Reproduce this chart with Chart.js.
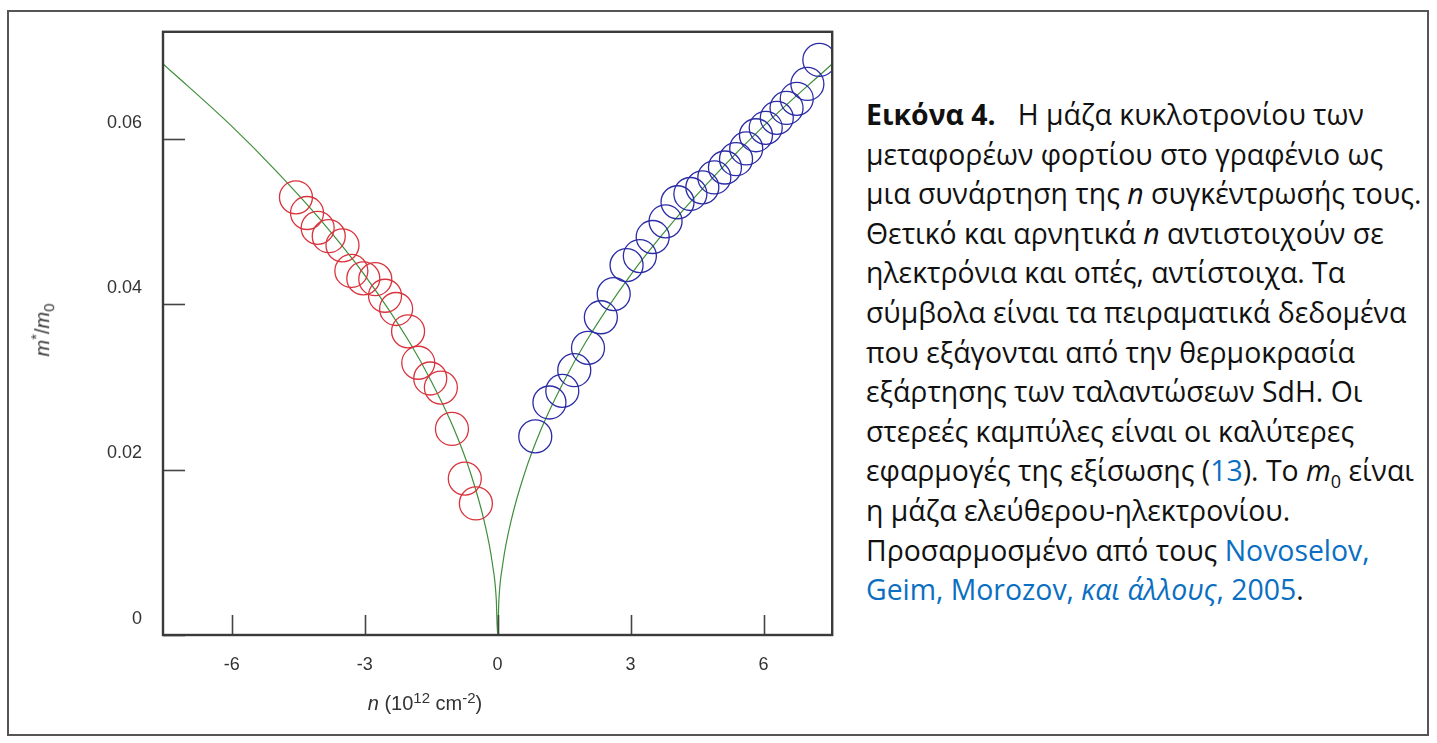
<!DOCTYPE html>
<html lang="el">
<head>
    <meta charset="UTF-8">
    <title>Μάζα κυκλοτρονίου στο γραφένιο</title>
    <script src="https://cdn.jsdelivr.net/npm/chart.js"></script>
    <style>
        html, body {
            margin: 0;
            padding: 0;
            background: #fff;
        }
        .frame {
            position: absolute;
            left: 7px;
            top: 10px;
            width: 1422px;
            height: 726px;
            border: 2px solid #555;
            box-sizing: border-box;
        }
        #massChart {
            position: absolute;
            left: 0;
            top: 0;
        }
        .axis-title {
            position: absolute;
            font-family: 'Liberation Sans', Arial, sans-serif;
            font-size: 20px;
            color: #333;
            white-space: nowrap;
        }
        .axis-title sup, .axis-title sub {
            font-size: 15px;
        }
        #xTitle {
            left: 425px;
            top: 702px;
            transform: translate(-50%, -50%);
        }
        #yTitle {
            left: 42px;
            top: 330px;
            transform: translate(-50%, -50%) rotate(-90deg);
        }
        .caption {
            position: absolute;
            left: 866px;
            top: 95px;
            font-family: 'Open Sans', 'Noto Sans', sans-serif;
            font-size: 28.4px;
            line-height: 39.6px;
            color: #111;
        }
        .caption .ln { white-space: nowrap; }
        .caption a { color: #0a6fc2; text-decoration: none; }
        .caption sub { font-size: 18px; line-height: 0; }
    </style>
</head>
<body>
    <div class="frame"></div>
    <canvas id="massChart" width="850" height="743"></canvas>

    <div class="axis-title" id="xTitle"><i>n</i> (10<sup>12</sup> cm<sup>-2</sup>)</div>
    <div class="axis-title" id="yTitle"><i>m</i><sup>*</sup>/<i>m</i><sub>0</sub></div>

    <div class="caption">
        <div class="ln"><b>Εικόνα 4.</b>&nbsp;&nbsp; Η μάζα κυκλοτρονίου των</div>
        <div class="ln">μεταφορέων φορτίου στο γραφένιο ως</div>
        <div class="ln">μια συνάρτηση της <i>n</i> συγκέντρωσής τους.</div>
        <div class="ln">Θετικό και αρνητικά <i>n</i> αντιστοιχούν σε</div>
        <div class="ln">ηλεκτρόνια και οπές, αντίστοιχα. Τα</div>
        <div class="ln">σύμβολα είναι τα πειραματικά δεδομένα</div>
        <div class="ln">που εξάγονται από την θερμοκρασία</div>
        <div class="ln">εξάρτησης των ταλαντώσεων SdH. Οι</div>
        <div class="ln">στερεές καμπύλες είναι οι καλύτερες</div>
        <div class="ln">εφαρμογές της εξίσωσης (<a>13</a>). Το <i>m</i><sub>0</sub> είναι</div>
        <div class="ln">η μάζα ελεύθερου-ηλεκτρονίου.</div>
        <div class="ln">Προσαρμοσμένο από τους <a>Novoselov,</a></div>
        <div class="ln"><a>Geim, Morozov, <i>και άλλους</i>, 2005</a>.</div>
    </div>

    <script>
        // holes (n < 0), measured points
        const holeN = [-4.55, -4.30, -4.06, -3.81, -3.50, -3.30, -3.03, -2.76, -2.54,
                       -2.29, -2.02, -1.79, -1.52, -1.28, -1.03, -0.74, -0.49];
        const holeMass = [0.0529, 0.0510, 0.0492, 0.0482, 0.0471, 0.0440, 0.0431, 0.0430, 0.0410,
                          0.0394, 0.0367, 0.0329, 0.0310, 0.0299, 0.0249, 0.0189, 0.0159];

        // electrons (n > 0), measured points
        const electronN = [0.85, 1.17, 1.46, 1.73, 2.04, 2.33, 2.62, 2.91, 3.21, 3.50, 3.79, 4.06, 4.35,
                           4.62, 4.89, 5.13, 5.38, 5.61, 5.83, 6.05, 6.30, 6.52, 6.75, 6.99, 7.26];
        const electronMass = [0.0240, 0.0281, 0.0295, 0.0320, 0.0347, 0.0384, 0.0412, 0.0447, 0.0458,
                              0.0481, 0.0500, 0.0523, 0.0533, 0.0541, 0.0553, 0.0565, 0.0575, 0.0588,
                              0.0604, 0.0613, 0.0625, 0.0637, 0.0648, 0.0666, 0.0695];

        // fitted curve
        const fitN = [-7.55, -7, -6, -5, -4, -3, -2, -1.5, -1, -0.6, -0.3, -0.12, -0.03, 0,
                      0.03, 0.12, 0.3, 0.6, 1, 1.5, 2, 3, 4, 5, 6, 7, 7.55];
        const fitMass = [0.0690, 0.0664, 0.0615, 0.0561, 0.0502, 0.0435, 0.0355, 0.0307, 0.0251,
                         0.0194, 0.0137, 0.0087, 0.0043, 0,
                         0.0043, 0.0087, 0.0137, 0.0194, 0.0251, 0.0307, 0.0355, 0.0435, 0.0502,
                         0.0561, 0.0615, 0.0664, 0.0690];

        const xTicks = [-6, -3, 0, 3, 6];
        const yTicks = [0, 0.02, 0.04, 0.06];

        const toPoints = (xs, ys) => xs.map((x, i) => ({ x: x, y: ys[i] }));

        // box around the plot plus the short inward tick marks
        const frameTicks = {
            id: 'frameTicks',
            afterDatasetsDraw(chart) {
                const { ctx, chartArea: a, scales } = chart;
                ctx.save();
                ctx.strokeStyle = '#444';
                ctx.lineWidth = 1.6;
                xTicks.forEach(v => {
                    const px = Math.round(scales.x.getPixelForValue(v)) + 0.5;
                    ctx.beginPath();
                    ctx.moveTo(px, a.bottom);
                    ctx.lineTo(px, a.bottom - 20);
                    ctx.stroke();
                });
                yTicks.forEach(v => {
                    const py = Math.round(scales.y.getPixelForValue(v)) + 0.5;
                    ctx.beginPath();
                    ctx.moveTo(a.left, py);
                    ctx.lineTo(a.left + 22, py);
                    ctx.stroke();
                });
                ctx.lineWidth = 2.4;
                ctx.strokeStyle = '#3a3a3a';
                ctx.strokeRect(a.left, a.top, a.right - a.left, a.bottom - a.top);
                ctx.restore();
            }
        };

        const tickFont = { family: "'Liberation Sans', Arial, sans-serif", size: 18 };

        new Chart(document.getElementById('massChart'), {
            type: 'scatter',
            data: {
                datasets: [
                    {
                        label: 'fit',
                        type: 'line',
                        data: toPoints(fitN, fitMass),
                        borderColor: '#3f8f3a',
                        borderWidth: 1.2,
                        pointRadius: 0,
                        cubicInterpolationMode: 'monotone',
                        fill: false,
                        order: 3
                    },
                    {
                        label: 'holes',
                        data: toPoints(holeN, holeMass),
                        pointStyle: 'circle',
                        pointRadius: 16.5,
                        pointBorderWidth: 1.3,
                        borderColor: '#d9343e',
                        backgroundColor: 'rgba(0,0,0,0)',
                        order: 1
                    },
                    {
                        label: 'electrons',
                        data: toPoints(electronN, electronMass),
                        pointStyle: 'circle',
                        pointRadius: 16.5,
                        pointBorderWidth: 1.3,
                        borderColor: '#2b2ca6',
                        backgroundColor: 'rgba(0,0,0,0)',
                        order: 2
                    }
                ]
            },
            options: {
                responsive: false,
                animation: false,
                events: [],
                layout: { padding: { top: 30, right: 14, left: 0, bottom: 0 } },
                plugins: {
                    legend: { display: false },
                    tooltip: { enabled: false }
                },
                scales: {
                    x: {
                        type: 'linear',
                        min: -7.55,
                        max: 7.55,
                        grid: { display: false, drawTicks: false },
                        border: { display: false },
                        afterBuildTicks: s => { s.ticks = xTicks.map(v => ({ value: v })); },
                        afterFit: s => { s.height = 108; },
                        ticks: {
                            padding: 19,
                            color: '#333',
                            font: tickFont,
                            maxRotation: 0,
                            callback: v => String(v)
                        }
                    },
                    y: {
                        type: 'linear',
                        min: 0,
                        max: 0.0729,
                        grid: { display: false, drawTicks: false },
                        border: { display: false },
                        afterBuildTicks: s => { s.ticks = yTicks.map(v => ({ value: v })); },
                        afterFit: s => { s.width = 163; },
                        ticks: {
                            padding: 21,
                            labelOffset: -16,
                            color: '#333',
                            font: tickFont,
                            callback: v => v === 0 ? '0' : v.toFixed(2)
                        }
                    }
                }
            },
            plugins: [frameTicks]
        });
    </script>
</body>
</html>
